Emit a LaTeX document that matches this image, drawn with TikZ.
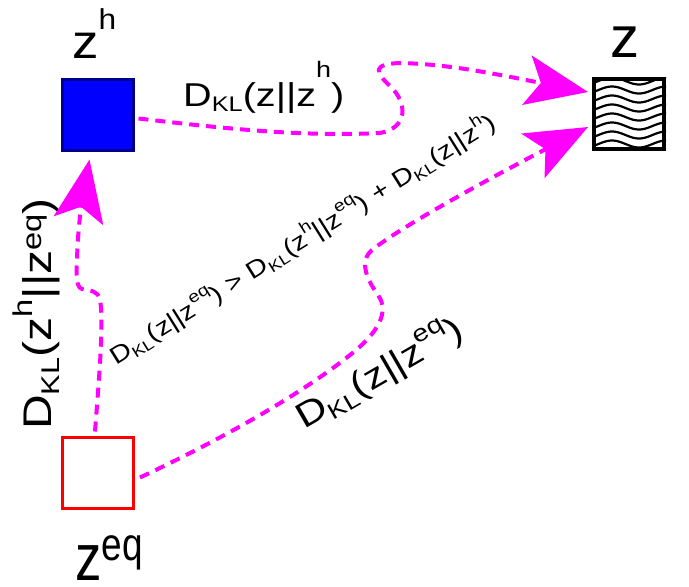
\documentclass[tikz,border=0pt]{standalone}
\usepackage{fontspec}
\setmainfont{Liberation Sans}
\usetikzlibrary{arrows.meta}
\definecolor{klpink}{RGB}{255,0,255}
\definecolor{hblue}{RGB}{0,0,255}
\definecolor{hnavy}{RGB}{0,0,140}
\newcommand\upidx[2][0.5em]{\raisebox{#1}{\scalebox{0.68}{#2}}}
\newcommand\dnidx[1]{\raisebox{-0.18em}{\scalebox{0.64}{#1}}}
\newcommand\dkl[2]{D\dnidx{KL}(#1||#2)}
\begin{document}
\begin{tikzpicture}
  [x=1pt,y=-1pt,
   latent/.style={rectangle,minimum size=71pt,line width=3pt,inner sep=0pt},
   klpath/.style={klpink,line width=4pt,dash pattern=on 10pt off 7pt,
     -{Stealth[length=62pt,width=50pt,inset=14pt]}},
   varlabel/.style={inner sep=0pt,anchor=base west,font=\fontsize{44}{48}\selectfont},
   kllabel/.style={inner sep=0pt,anchor=base west}]
\useasboundingbox (0,0) rectangle (689,587);

\node (zh)[latent,fill=hblue,draw=hnavy] at (97.5,114.5) {};
\node (zeq)[latent,fill=white,draw=red] at (98,472.5) {};
\node (z)[latent,draw=black,line width=4pt,minimum size=70pt] at (629,114) {};
\begin{scope}
  \clip (z.south west) rectangle (z.north east);
  \foreach \yc in {81,90,...,144}
    \draw[line width=2.2pt] plot[domain=588:670,samples=50] (\x,{\yc-3.5*cos(6.667*(\x-612))});
\end{scope}

\node (lzh)[varlabel,font=\fontsize{48}{50}\selectfont] at (72,58)
  {\scalebox{1.1}[1]{z\raisebox{0.6em}{\scalebox{0.6}{h}}}};
\node (lz)[varlabel,font=\fontsize{58}{60}\selectfont] at (610,57) {z};
\node (lzeq)[varlabel,font=\fontsize{66}{70}\selectfont] at (75,580)
  {\scalebox{0.8}[1]{z\raisebox{0.3em}{\scalebox{0.7}{eq}}}};

\node (kla)[kllabel,font=\fontsize{33}{36}\selectfont] at (183,106)
  {\scalebox{1.2}[1]{\dkl{z}{z\upidx[0.85em]{h}}}};
\node (klb)[kllabel,rotate=90,font=\fontsize{40}{44}\selectfont] at (52,430)
  {\scalebox{1.2}[1]{\dkl{z\upidx{h}}{z\upidx[0.25em]{eq}}}};
\node (klc)[kllabel,rotate=30,font=\fontsize{35}{38}\selectfont] at (304,430)
  {\scalebox{1.2}[1]{\dkl{z}{z\upidx{eq}}}};
\node (kld)[kllabel,rotate=32,font=\fontsize{24}{26}\selectfont] at (116,366)
  {\scalebox{1.2}[1]{\dkl{z}{z\upidx{eq}} > \dkl{z\upidx{h}}{z\upidx{eq}} + \dkl{z}{z\upidx{h}}}};

% z^h -> z
\draw[klpath] ([shift={(4,4)}]zh.east) .. controls (220,128) and (300,137) .. (380,133)
  .. controls (408,128) and (408,103) .. (390,86) .. controls (375,72) and (372,64) .. (400,63)
  .. controls (450,64) and (500,75) .. ([shift={(-4,-22)}]z.west);
% z^eq -> z^h
\draw[klpath] ([shift={(-3,-4)}]zeq.north) .. controls (99,380) and (104,320) .. (100,300)
  .. controls (98,290) and (90,291) .. (82,289) .. controls (76,287) and (76,275) .. (77,260)
  .. controls (78,220) and (84,190) .. ([shift={(-8,8)}]zh.south);
% z^eq -> z
\draw[klpath] ([shift={(5,5)}]zeq.east) .. controls (220,440) and (300,395) .. (350,355)
  .. controls (378,333) and (390,312) .. (378,295) .. controls (368,281) and (358,262) .. (372,250)
  .. controls (410,220) and (525,160) .. ([shift={(-4,13)}]z.west);
\end{tikzpicture}
\end{document}
